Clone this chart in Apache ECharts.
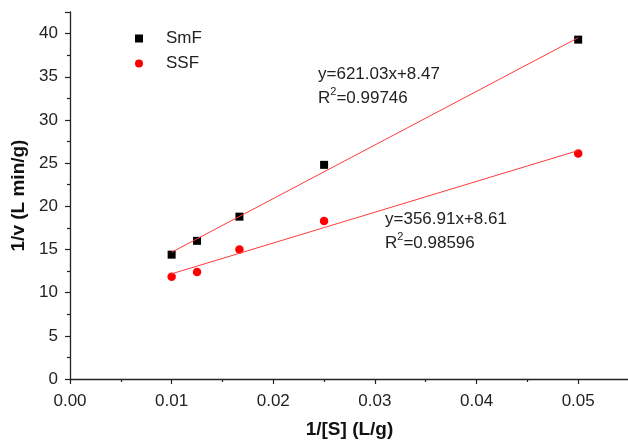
<!DOCTYPE html>
<html>
<head>
<meta charset="utf-8">
<script src="https://cdn.jsdelivr.net/npm/echarts@6/dist/echarts.min.js"></script>
<style>
  html, body { margin: 0; padding: 0; background: #fff; }
  #chart { width: 628px; height: 440px; }
</style>
</head>
<body>
<div id="chart"></div>
<script>
// Lineweaver–Burk data: 1/[S] (L/g) against 1/v (L min/g)
const invS = [0.01, 0.0125, 0.01667, 0.025, 0.05];
const smfInvV = [14.4, 16.0, 18.8, 24.8, 39.3];
const ssfInvV = [11.85, 12.4, 15.0, 18.3, 26.1];

// Linear fits as reported in the annotations
const fitSlope = [621.03, 356.91];
const fitIntercept = [8.47, 8.61];
const fitR2 = ['0.99746', '0.98596'];
const fitRange = [0.01, 0.05];

const xTicks = { min: 0, max: 0.055, interval: 0.01 };
const yTicks = { min: 0, max: 42.5, interval: 5 };

const FONT = '"Liberation Sans", Arial, sans-serif';

const pairs = (xs, ys) => xs.map((x, i) => [x, ys[i]]);
const fitLine = k => fitRange.map(x => [x, fitSlope[k] * x + fitIntercept[k]]);

const chart = echarts.init(document.getElementById('chart'), null, { renderer: 'canvas' });

const axisCommon = {
  axisLine: { show: true, lineStyle: { color: '#222', width: 1.3 } },
  axisTick: { show: true, length: 5, lineStyle: { color: '#222', width: 1.2 } },
  minorTick: { show: true, splitNumber: 2, length: 3, lineStyle: { color: '#222', width: 1.2 } },
  splitLine: { show: false },
  axisLabel: { color: '#222', fontFamily: FONT, fontSize: 17 },
  nameTextStyle: { color: '#111', fontFamily: FONT, fontSize: 19, fontWeight: 'bold' }
};

const eqText = k =>
  'y=' + fitSlope[k].toFixed(2) + 'x+' + fitIntercept[k].toFixed(2) + '\nR{sup|2}=' + fitR2[k];

const eqStyle = {
  fontFamily: FONT, fontSize: 17, fill: '#222', lineHeight: 24,
  rich: { sup: { fontSize: 11, verticalAlign: 'top', padding: [0, 0, 9, 0], fontFamily: FONT, fill: '#222' } }
};

chart.setOption({
  animation: false,
  backgroundColor: '#fff',
  grid: { left: 70, top: 12, width: 559, height: 367, containLabel: false, outerBoundsMode: 'none' },
  xAxis: Object.assign({}, axisCommon, {
    type: 'value',
    min: xTicks.min, max: xTicks.max, interval: xTicks.interval,
    name: '1/[S] (L/g)',
    nameLocation: 'middle',
    nameGap: 41,
    axisLabel: Object.assign({}, axisCommon.axisLabel, {
      margin: 14,
      formatter: v => v.toFixed(2),
      showMaxLabel: false
    })
  }),
  yAxis: Object.assign({}, axisCommon, {
    type: 'value',
    min: yTicks.min, max: yTicks.max, interval: yTicks.interval,
    name: '1/v (L min/g)',
    nameLocation: 'middle',
    nameGap: 40,
    axisLabel: Object.assign({}, axisCommon.axisLabel, {
      margin: 12,
      showMaxLabel: false
    })
  }),
  legend: {
    orient: 'vertical',
    left: 130,
    top: 25,
    itemWidth: 8,
    itemHeight: 8,
    itemGap: 8,
    textStyle: { color: '#222', fontFamily: FONT, fontSize: 17, lineHeight: 15, padding: [0, 0, 0, 18] },
    data: [
      { name: 'SmF', icon: 'rect', itemStyle: { color: '#000', opacity: 1 } },
      { name: 'SSF', icon: 'circle', itemStyle: { color: '#ff0000', opacity: 1 } }
    ]
  },
  series: [
    {
      name: 'SmF', type: 'scatter', data: pairs(invS, smfInvV),
      symbol: 'rect', symbolSize: 8, itemStyle: { color: '#000', opacity: 1 }, z: 2
    },
    {
      name: 'SSF', type: 'scatter', data: pairs(invS, ssfInvV),
      symbol: 'circle', symbolSize: 8.5, itemStyle: { color: '#ff0000', opacity: 1 }, z: 2
    },
    {
      name: 'SmF fit', type: 'line', data: fitLine(0),
      symbol: 'none', lineStyle: { color: '#ff3b3b', width: 1 }, z: 3, silent: true
    },
    {
      name: 'SSF fit', type: 'line', data: fitLine(1),
      symbol: 'none', lineStyle: { color: '#ff3b3b', width: 1 }, z: 3, silent: true
    }
  ],
  graphic: [
    { type: 'text', left: 318, top: 62, style: Object.assign({ text: eqText(0) }, eqStyle) },
    { type: 'text', left: 385, top: 207, style: Object.assign({ text: eqText(1) }, eqStyle) }
  ]
});
</script>
</body>
</html>
